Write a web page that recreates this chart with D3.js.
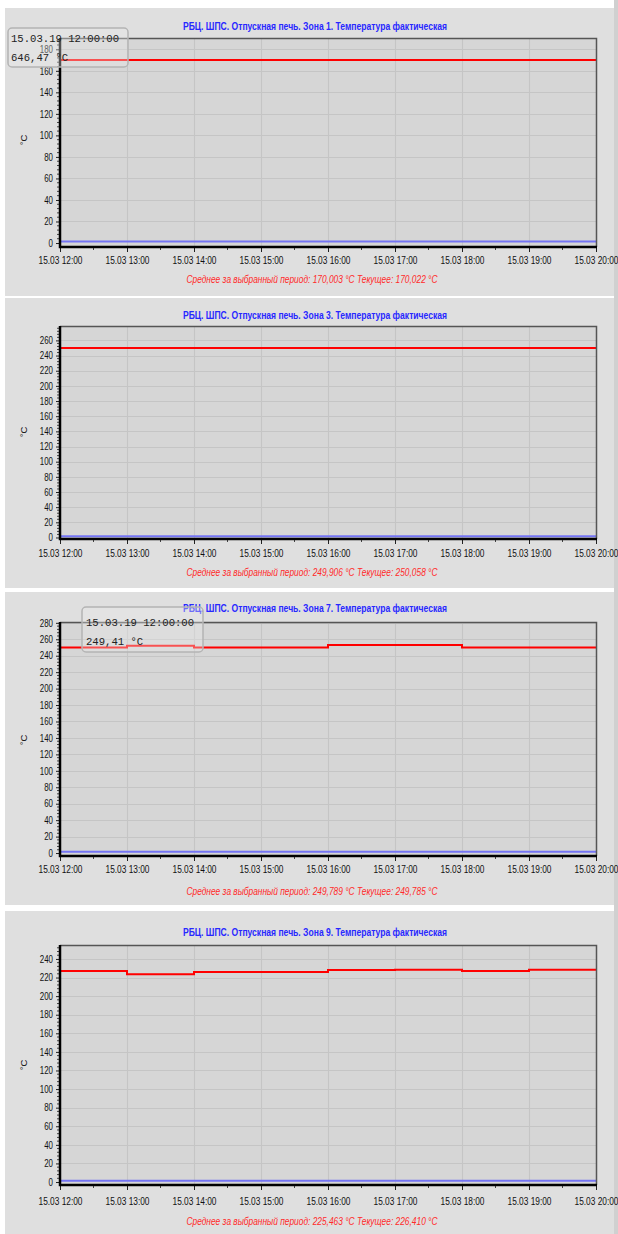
<!DOCTYPE html>
<html><head><meta charset="utf-8">
<script src="https://cdn.jsdelivr.net/npm/d3@7"></script>
<style>
html,body{margin:0;padding:0;background:#fff;}
svg{display:block;}
</style></head>
<body>
<script>
// ---- DATA ----
const hours = [12, 13, 14, 15, 16, 17, 18, 19, 20];
const tickLabels = ["15.03 12:00","15.03 13:00","15.03 14:00","15.03 15:00","15.03 16:00","15.03 17:00","15.03 18:00","15.03 19:00","15.03 20:00"];
const titles = [
  "РБЦ. ШПС. Отпускная печь. Зона 1. Температура фактическая",
  "РБЦ. ШПС. Отпускная печь. Зона 3. Температура фактическая",
  "РБЦ. ШПС. Отпускная печь. Зона 7. Температура фактическая",
  "РБЦ. ШПС. Отпускная печь. Зона 9. Температура фактическая"
];
const subtitles = [
  "Среднее за выбранный период: 170,003 °C Текущее: 170,022 °C",
  "Среднее за выбранный период: 249,906 °C Текущее: 250,058 °C",
  "Среднее за выбранный период: 249,789 °C Текущее: 249,785 °C",
  "Среднее за выбранный период: 225,463 °C Текущее: 226,410 °C"
];
const zone1Temp = [170, 170, 170, 170, 170, 170, 170, 170, 170];
const zone3Temp = [250, 250, 250, 250, 250, 250, 250, 250, 250];
const zone7Temp = [250, 252, 250, 250, 253, 253, 250, 250, 250];
const zone9Temp = [227, 223.5, 226, 226, 228, 228.5, 227, 228.5, 228.5];
const baseLine = [1.5, 1.5, 1.5, 1.5, 1.5, 1.5, 1.5, 1.5, 1.5];
const yMaxValues = [190.5, 279, 281, 255];
const yMinValues = [-3.7, -2, -3.6, -3.2];
const yTopTick = [180, 260, 280, 240];
const tooltipTimes = ["15.03.19 12:00:00", null, "15.03.19 12:00:00", null];
const tooltipValues = ["646,47 °C", null, "249,41 °C", null];

const series = [zone1Temp, zone3Temp, zone7Temp, zone9Temp];

// ---- LAYOUT ----
const W = 618, H = 1234;
const left = 60, right = 596;
const layouts = [
  {pTop: 8,   pBot: 296, titleY: 26,  top: 38,  bot: 247,  xlab: 260,  sub: 279,  ylab: 140,  tip:{x:8, y:28, w:120, h:39, tx:11, l1:42, l2:61}},
  {pTop: 298, pBot: 588, titleY: 315, top: 326, bot: 539,  xlab: 553,  sub: 572,  ylab: 432},
  {pTop: 592, pBot: 905, titleY: 608, top: 622, bot: 856,  xlab: 869,  sub: 891,  ylab: 740,  tip:{x:82, y:607, w:121, h:45, tx:86, l1:626, l2:645}},
  {pTop: 911, pBot: 1234,titleY: 932, top: 945, bot: 1185, xlab: 1201, sub: 1221, ylab: 1065}
];

const svg = d3.select("body").append("svg").attr("width", W).attr("height", H);
svg.append("rect").attr("width", W).attr("height", H).attr("fill", "#ffffff");
svg.append("rect").attr("x", 614).attr("y", 0).attr("width", 4).attr("height", H).attr("fill", "#d0d0d0");

const font = "'Liberation Sans',Arial,sans-serif";
const mono = "'Liberation Mono','DejaVu Sans Mono',monospace";

layouts.forEach((L, i) => {
  const g = svg.append("g");
  g.append("rect").attr("x", 5).attr("y", L.pTop).attr("width", 609).attr("height", L.pBot - L.pTop).attr("fill", "#dfdfdf");

  const t0 = new Date(2019, 2, 15, hours[0]);
  const t1 = new Date(2019, 2, 15, hours[hours.length - 1]);
  const x = d3.scaleTime().domain([t0, t1]).range([left, right]);
  const y = d3.scaleLinear().domain([yMinValues[i], yMaxValues[i]]).range([L.bot, L.top]);

  g.append("rect").attr("x", left).attr("y", L.top).attr("width", right - left).attr("height", L.bot - L.top).attr("fill", "#d6d6d6");

  const hourDates = hours.map(h => new Date(2019, 2, 15, h));
  const yTicks = d3.range(0, yTopTick[i] + 1, 20);

  // grid
  g.append("g").selectAll("line").data(yTicks.slice(1)).join("line")
    .attr("x1", left).attr("x2", right).attr("y1", d => Math.round(y(d)) + 0.5).attr("y2", d => Math.round(y(d)) + 0.5)
    .attr("stroke", "#c5c5c5").attr("stroke-width", 1.2);
  g.append("g").selectAll("line").data(hourDates.slice(1, -1)).join("line")
    .attr("y1", L.top).attr("y2", L.bot).attr("x1", d => Math.round(x(d)) + 0.5).attr("x2", d => Math.round(x(d)) + 0.5)
    .attr("stroke", "#c5c5c5").attr("stroke-width", 1.2);

  // series
  const pts = hourDates.map((d, k) => ({t: d, v: series[i][k]}));
  const bpts = hourDates.map((d, k) => ({t: d, v: baseLine[k]}));
  const line = d3.line().x(d => x(d.t)).y(d => y(d.v)).curve(d3.curveStepAfter);
  g.append("path").datum(bpts).attr("d", line).attr("fill", "none").attr("stroke", "#7474f4").attr("stroke-width", 2);
  g.append("path").datum(pts).attr("d", line).attr("fill", "none").attr("stroke", "#ff0000").attr("stroke-width", 2);

  // frame top/right
  g.append("path").attr("d", `M${left},${L.top + 0.5}H${right + 0.5}V${L.bot}`).attr("fill", "none").attr("stroke", "#555").attr("stroke-width", 1.5);

  // y axis
  const yAxis = d3.axisLeft(y).tickValues(yTicks).tickSize(4).tickPadding(3).tickFormat(d3.format("d"));
  const ya = g.append("g").attr("transform", `translate(${left},0)`).call(yAxis);
  ya.select(".domain").remove();
  ya.selectAll("text").attr("font-family", font).attr("font-size", "10px").attr("fill", "#111")
    .attr("textLength", d => String(d).length * 4.4).attr("lengthAdjust", "spacingAndGlyphs");
  ya.selectAll("line").attr("stroke", "#222");
  g.append("g").selectAll("line").data(d3.range(0, yMaxValues[i], 4).filter(v => v % 20 !== 0)).join("line")
    .attr("x1", left - 3).attr("x2", left).attr("y1", d => y(d)).attr("y2", d => y(d))
    .attr("stroke", "#444").attr("stroke-width", 1);

  // x axis
  const xAxis = d3.axisBottom(x).tickValues(hourDates).tickSize(5).tickPadding(4).tickFormat((d, k) => tickLabels[k]);
  const xa = g.append("g").attr("transform", `translate(0,${L.bot})`).call(xAxis);
  xa.select(".domain").remove();
  xa.selectAll("text").attr("font-family", font).attr("font-size", "10px").attr("fill", "#111")
    .attr("y", null).attr("dy", null)
    .attr("textLength", 44).attr("lengthAdjust", "spacingAndGlyphs")
    .attr("transform", `translate(0,${L.xlab - L.bot + 3.5})`);
  xa.selectAll("line").attr("stroke", "#222");
  const minor = d3.timeMinute.every(30).range(t0, t1).filter(d => d.getMinutes() !== 0);
  g.append("g").selectAll("line").data(minor).join("line")
    .attr("x1", d => x(d)).attr("x2", d => x(d)).attr("y1", L.bot).attr("y2", L.bot + 3)
    .attr("stroke", "#444");

  g.append("path").attr("d", `M${left},${L.top}V${L.bot}H${right + 1}`).attr("fill", "none").attr("stroke", "#000").attr("stroke-width", 2.5);

  g.append("text").attr("transform", `translate(27,${L.ylab}) rotate(-90)`).attr("text-anchor", "middle")
    .attr("font-family", font).attr("font-size", "9.5px").attr("fill", "#111").text("°C");

  g.append("text").attr("x", 315).attr("y", L.titleY + 3.5).attr("text-anchor", "middle")
    .attr("font-family", font).attr("font-size", "10.5px").attr("font-weight", "bold").attr("fill", "#2828ff")
    .attr("textLength", 264).attr("lengthAdjust", "spacingAndGlyphs").text(titles[i]);
  g.append("text").attr("x", 312).attr("y", L.sub + 3.5).attr("text-anchor", "middle")
    .attr("font-family", font).attr("font-size", "10px").attr("font-style", "italic").attr("fill", "#ff2a2a")
    .attr("textLength", 251).attr("lengthAdjust", "spacingAndGlyphs").text(subtitles[i]);

  if (L.tip && tooltipTimes[i]) {
    const T = L.tip;
    g.append("rect").attr("x", T.x).attr("y", T.y).attr("width", T.w).attr("height", T.h).attr("rx", 4)
      .attr("fill", "rgba(235,235,235,0.35)").attr("stroke", "#b4b4b4").attr("stroke-width", 1.5);
    g.append("text").attr("x", T.tx).attr("y", T.l1).attr("font-family", mono).attr("font-size", "10.6px").attr("fill", "#222").text(tooltipTimes[i]);
    g.append("text").attr("x", T.tx).attr("y", T.l2).attr("font-family", mono).attr("font-size", "10.6px").attr("fill", "#222").text(tooltipValues[i]);
  }
});
</script>
</body></html>
